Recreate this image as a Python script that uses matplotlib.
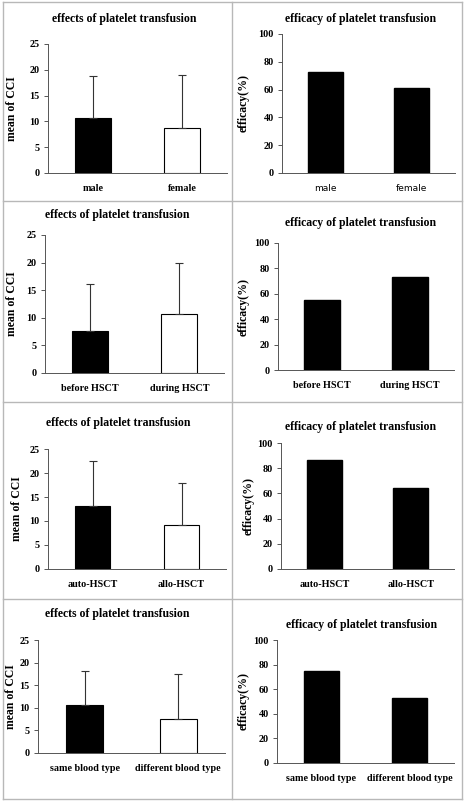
import matplotlib
matplotlib.use("Agg")
import matplotlib.pyplot as plt
from matplotlib.lines import Line2D

W, H = 465, 802

titles_left = "effects of platelet transfusion"
titles_right = "efficacy of platelet transfusion"

groups = [
    ["male", "female"],
    ["before HSCT", "during HSCT"],
    ["auto-HSCT", "allo-HSCT"],
    ["same blood type", "different blood type"],
]
cci_mean = [[10.7, 8.8], [7.6, 10.7], [13.1, 9.1], [10.7, 7.5]]
cci_upper = [[18.8, 19.0], [16.2, 20.0], [22.6, 17.9], [18.2, 17.5]]
efficacy = [[72.7, 61.4], [55.3, 73.2], [86.5, 64.2], [74.7, 53.2]]

# pixel layout: (left, right, bottom, top) of each plot area, title (x, y), ylabel x
left_boxes = [(48, 227, 173, 44), (45, 224, 373, 235), (48, 226, 569, 449), (38, 225, 753, 640)]
right_boxes = [(282, 455, 173, 34), (278, 454, 370, 243), (281, 454, 569, 443), (277, 454, 763, 640)]
left_titles = [(124, 19), (117, 215), (118, 423), (117, 614)]
right_titles = [(361, 19), (361, 223), (361, 427), (362, 625)]
left_ylab_x = [12, 12, 17, 11]
right_ylab_x = [244, 244, 249, 244]

serif = "Liberation Serif"
fig = plt.figure(figsize=(W / 100, H / 100), dpi=100)


def rect(l, r, b, t):
    return [l / W, 1 - b / H, (r - l) / W, (b - t) / H]


def style(ax, ymax, step, ylabel, labels, box, ylab_x, sans=False):
    ax.set_ylim(0, ymax)
    ax.set_xlim(-0.5, 1.5)
    ax.set_yticks(range(0, ymax + 1, step))
    ax.set_xticks([0, 1])
    if sans:
        ax.set_xticklabels(labels, fontfamily="DejaVu Sans", fontsize=6.5)
    else:
        ax.set_xticklabels(labels, fontfamily=serif, fontweight="bold", fontsize=7.3)
    for lab in ax.get_yticklabels():
        lab.set_fontfamily(serif)
        lab.set_fontweight("bold")
        lab.set_fontsize(7.3)
    ax.tick_params(axis="x", length=0, pad=8)
    ax.tick_params(axis="y", length=3, width=0.7, color="#555555", pad=3)
    for s in ["top", "right"]:
        ax.spines[s].set_visible(False)
    for s in ["left", "bottom"]:
        ax.spines[s].set_color("#555555")
        ax.spines[s].set_linewidth(0.7)
    ax.set_ylabel(ylabel, fontfamily=serif, fontweight="bold", fontsize=8.5)
    ax.yaxis.set_label_coords(ylab_x / W, 1 - (box[2] + box[3]) / 2 / H, transform=fig.transFigure)
    ax.yaxis.label.set_va("center")


for i in range(4):
    ax = fig.add_axes(rect(*left_boxes[i]))
    x = [0, 1]
    ax.bar(x, cci_mean[i], width=0.4, color=["black", "white"], edgecolor="black", linewidth=0.8, zorder=2)
    err = [u - m for u, m in zip(cci_upper[i], cci_mean[i])]
    ax.errorbar(x, cci_mean[i], yerr=[[0, 0], err], fmt="none", ecolor="#333333",
                elinewidth=0.8, capsize=3, capthick=0.8, zorder=3)
    style(ax, 25, 5, "mean of CCI", groups[i], left_boxes[i], left_ylab_x[i])
    fig.text(left_titles[i][0] / W, 1 - left_titles[i][1] / H, titles_left,
             ha="center", va="center", fontfamily=serif, fontweight="bold", fontsize=8.5)

    ax = fig.add_axes(rect(*right_boxes[i]))
    ax.bar(x, efficacy[i], width=0.4, color="black", edgecolor="black", zorder=2)
    style(ax, 100, 20, "efficacy(%)", groups[i], right_boxes[i], right_ylab_x[i], sans=(i == 0))
    fig.text(right_titles[i][0] / W, 1 - right_titles[i][1] / H, titles_right,
             ha="center", va="center", fontfamily=serif, fontweight="bold", fontsize=8.5)

# panel frame lines
grey = "#b8b8b8"
frame = [
    ([3, 462], [2, 2]), ([3, 462], [799, 799]), ([3, 3], [2, 799]), ([462, 462], [2, 799]),
    ([232, 232], [2, 799]), ([3, 462], [201, 201]), ([3, 462], [402, 402]), ([3, 462], [599, 599]),
]
for xs, ys in frame:
    fig.add_artist(Line2D([v / W for v in xs], [1 - v / H for v in ys], color=grey, linewidth=1.0))

fig.savefig("out.png", dpi=100)
